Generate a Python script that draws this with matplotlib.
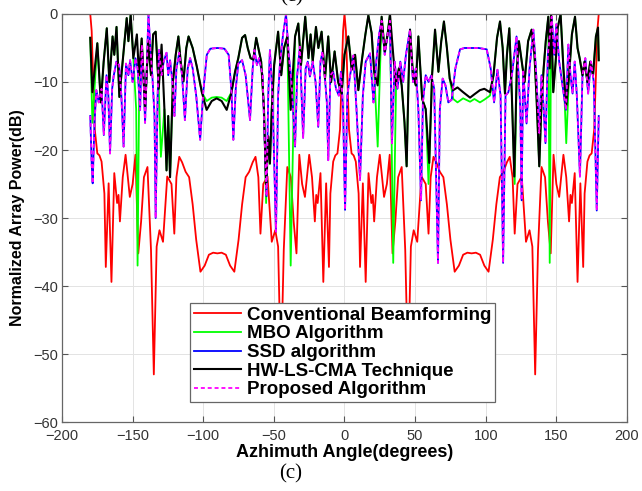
import matplotlib
matplotlib.use("Agg")
import matplotlib.pyplot as plt

# azimuth (deg) and normalized power (dB)

# Conventional beamforming
red_ang = [-180, -179, -178, -176.8, -175, -173.5, -172, -170, -169, -167, -165, -163, -161, -160, -159,
           -157, -155, -152, -150, -148, -146, -144, -142, -139.5, -137, -135, -133, -131, -128.5,
           -125.5, -122.5, -120.5, -119, -117, -115, -112.5, -110, -107.5, -105, -102, -99, -96, -93, -90,
           -87, -84, -81, -78, -75, -72.5, -70, -67.5, -65, -63, -61, -59.5, -57.5, -54.5, -51.5, -49,
           -47, -45, -43, -40.5, -38, -36, -34, -32, -30, -28, -25, -23, -21, -20, -19, -17, -15, -13,
           -11, -10, -8, -6.5, -5, -3.2, -2, -1, 0,
           1, 2, 3.2, 5, 6.5, 8, 10, 11, 13, 15, 17, 19, 20, 21, 23, 25, 28, 30, 32, 34, 36, 38, 40.5,
           43, 45, 47, 49, 51.5, 54.5, 57.5, 59.5, 61, 63, 65, 67.5, 70, 72.5, 75, 78, 81, 84, 87, 90,
           93, 96, 99, 102, 105, 107.5, 110, 112.5, 115, 117, 119, 120.5, 122.5, 125.5, 128.5, 131, 133,
           135, 137, 139.5, 142, 144, 146, 148, 150, 152, 155, 157, 159, 160, 161, 163, 165, 167, 169,
           170, 172, 173.5, 175, 176.8, 178, 179, 180]
red_db = [0, -2.5, -9, -17, -20.5, -20.8, -21.7, -26.4, -37.2, -24.9, -39.4, -23.4, -27.8, -26.6, -30.5,
          -24, -20.7, -26.9, -25, -20.7, -35.2, -30.5, -24, -22.5, -34.7, -53, -34.2, -31.8, -33.5,
          -23.9, -25, -32.3, -24, -21, -21.8, -23.2, -24, -28, -33.2, -37.9, -37, -35.4, -35.1, -35.2,
          -35.1, -35.4, -37, -37.9, -33.2, -28, -24, -23.2, -21.8, -21, -24, -32.3, -25, -23.9, -33.5,
          -31.8, -34.2, -53, -34.7, -22.5, -24, -30.5, -35.2, -20.7, -25, -26.9, -20.7, -24, -30.5,
          -26.6, -27.8, -23.4, -39.4, -24.9, -37.2, -26.4, -21.7, -20.8, -20.5, -17, -9, -2.5, 0,
          -2.5, -9, -17, -20.5, -20.8, -21.7, -26.4, -37.2, -24.9, -39.4, -23.4, -27.8, -26.6, -30.5,
          -24, -20.7, -26.9, -25, -20.7, -35.2, -30.5, -24, -22.5, -34.7, -53, -34.2, -31.8, -33.5,
          -23.9, -25, -32.3, -24, -21, -21.8, -23.2, -24, -28, -33.2, -37.9, -37, -35.4, -35.1, -35.2,
          -35.1, -35.4, -37, -37.9, -33.2, -28, -24, -23.2, -21.8, -21, -24, -32.3, -25, -23.9, -33.5,
          -31.8, -34.2, -53, -34.7, -22.5, -24, -30.5, -35.2, -20.7, -25, -26.9, -20.7, -24, -30.5,
          -26.6, -27.8, -23.4, -39.4, -24.9, -37.2, -26.4, -21.7, -20.8, -20.5, -17, -9, -2.5, 0]

# HW-LS-CMA technique
hw_ang = [-180, -178.5, -175, -172.5, -170.5, -168.3, -166.5, -164.2, -163, -161.4, -159.4, -157.5,
          -154.2, -153, -151.4, -149.5, -147, -145.5, -143.6, -141.2, -139, -137, -135.5, -133.7,
          -131.5, -129.5, -127.5, -126, -124.8, -123.5, -121.5, -119.5, -117.6, -116, -114, -112,
          -110.4, -107.5, -104.6, -101, -97.6, -94, -90.5, -87, -83.4, -80, -77.5, -75.2, -72.5,
          -70.4, -68.5, -66.5, -64.6, -62.5, -60.5, -59, -57, -55.5, -54, -52.8, -51.5, -49.8, -47,
          -44.8, -42.8, -40.5, -38.1, -35, -32.7, -30.8, -27.8, -25.5, -24, -22.5, -20.2, -18.5,
          -16.2, -13.8, -11.5, -9.5, -7, -4.5, -2, 0, 2.7, 5.1, 7.5, 9.8, 12.5, 14.8, 16.9, 19.2, 21,
          23.5, 26.3, 28.5, 30.5, 32.2, 34.5, 36.5, 38.5, 40.5, 42.5, 44, 45.3, 46.4, 48.5, 50.5, 52.3,
          55, 57.5, 60, 62, 64.1, 66.5, 68.5, 70.4, 72.5, 74.5, 77, 80, 84, 88.9, 92, 95.9, 99, 103,
          105.5, 108, 110.1, 112, 113.6, 115, 116.7, 118.5, 120.2, 122, 123.5, 125.5, 127.5, 130,
          132.5, 134.5, 136, 137.9, 139.5, 141, 142.5, 144.3, 145.3, 146.3, 147.8, 149.5, 151, 153,
          155, 157, 159, 161, 163.2, 165, 166.5, 168.5, 170, 172, 174, 176, 178, 179.5, 180]
hw_db = [-3.5, -11.5, -4.3, -13, -7, -2.1, -10, -3.3, -6, -1.9, -12.2, -8,
         -0.6, -4, -0.1, -6.5, -3, -9, -3.6, -14.1, -4, -9, -3, -2.6,
         -11, -4.5, -14, -23, -15, -24, -10, -6, -3.3, -7, -9.9, -5,
         -3.3, -5, -7.7, -11.5, -14.1, -12.8, -12.4, -12.8, -14.1, -11.5, -8.5, -6.5, -3.5,
         -3.1, -5, -6.5, -6.7, -3.5, -5.5, -7, -14, -25.3, -18, -22, -14, -7.5, -2.6,
         -9, -5, -3.3, -14.1, -3.3, -1.4, -7.5, -0.4, -6.5, -3, -7, -1.9, -5,
         -2.6, -9.5, -3.3, -10, -5.5, -10, -11.7, -6, -3.3, -8.2, -6, -11.2, -6.5, -3, -0.2, -2.8, -8.5,
         -10.5, -0.4, -5.5, -3, 0, -6, -10.5, -8, -10.5, -16, -22.4, -10, -2.3, -9, -10.5, -3.3,
         -12.5, -14, -21.9, -9, -2.3, -8.5, -4, -1.1, -5, -9.5, -11.2, -10.8, -11.5, -12.3, -11.8, -11.2, -11, -11.5,
         -9, -3.5, -1.1, -5, -11.7, -6, -2.1, -12, -23.9, -8, -4, -7, -10, -4,
         -2.3, -6, -12.5, -22.4, -13, -8, -4, -0.4, -8, 0, -11.5, -7, -2, 0,
         -8, -13.5, -9, -3, -0.4, -5, -6.5, -9, -7, -10, -7, -9, -3.3, -2, -6.8]

# MBO algorithm
mbo_ang = [-180, -178.5, -175, -172.5, -170.5, -168.3, -166.5, -164.2, -163, -161.4, -159.4, -157.5,
           -154.2, -153, -151.4, -149.5, -147.5, -146.5, -145.5, -143.6, -141.2, -139, -137, -135.5,
           -133.7, -131.5, -130, -127.5, -126, -124.8, -123.5, -121.5, -119.5, -117.6, -116, -114, -112,
           -110.4, -107.5, -104.6, -101, -97.6, -94, -90.5, -87, -83.4, -80, -77.5, -75.2, -72.5,
           -70.4, -68.5, -66.5, -64.6, -62.5, -60.5, -59, -57, -55.5, -54, -52.8, -51.5, -49.8, -47,
           -44.8, -42.8, -40.5, -38.1, -35, -32.7, -30.8, -27.8, -25.5, -24, -22.5, -20.2, -18.5,
           -16.2, -13.8, -11.5, -9.5, -7, -4.5, -2, 0, 2.7, 5.1, 7.5, 9.8, 12.5, 14.8, 16.9, 19.2, 21,
           23.5, 26.3, 28.5, 30.5, 32.2, 34.5, 36.5, 38.5, 40.5, 42.5, 44, 45.3, 46.4, 48.5, 50.5, 52.3,
           55, 57.5, 59.5, 62, 64.1, 66.5, 68.5, 70.4, 72.5, 74.5, 77, 80, 84, 88.9, 92, 95.9, 99, 103,
           105.5, 108, 110.1, 112, 113.6, 115, 116.7, 118.5, 120.5, 122, 123.5, 125.5, 127.5, 130,
           132.5, 134.5, 136, 137.9, 139.5, 141, 142.5, 144.3, 145.3, 146.3, 147.8, 149.5, 151, 153,
           155, 157, 159, 161, 163.2, 165, 166.5, 168.5, 170, 172, 174, 176, 178, 179.5, 180]
mbo_db = [-3.5, -16, -4.3, -13, -7, -2.1, -10, -3.3, -6, -1.9, -12.2, -8,
          -0.6, -4, -0.1, -6.5, -14, -37, -14, -3.6, -14.1, -4, -9, -3,
          -2.6, -11, -21, -14, -23, -15, -24, -10, -6, -3.3, -7, -9.9, -5,
          -3.3, -5, -7.7, -11.5, -12.8, -12.3, -12.2, -12.3, -12.8, -11.5, -8.5, -6.5, -3.5,
          -3.1, -5, -6.5, -6.7, -3.5, -5.5, -7, -14, -27.8, -18, -22, -14, -7.5, -2.6,
          -9, -5, -3.3, -37, -3.3, -1.4, -7.5, -0.4, -6.5, -3, -7, -1.9, -5,
          -2.6, -9.5, -3.3, -10, -5.5, -10, -11.7, -6, -3.3, -8.2, -6, -11.2, -6.5, -3, -0.2, -2.8, -8.5,
          -19.5, -0.4, -5.5, -3, 0, -36.6, -10.5, -8, -10.5, -16, -22.4, -10, -2.3, -9, -10.5, -3.3,
          -12.5, -14, -25, -9, -2.3, -8.5, -4, -1.1, -5, -9.5, -12.5, -13, -12.4, -12.9, -12.5, -13, -12.6, -12,
          -9, -3.5, -1.1, -5, -11.7, -6, -2.1, -12, -25, -8, -4, -7, -10, -4,
          -2.3, -6, -12.5, -22.4, -13, -8, -4, -0.4, -36.6, 0, -11.5, -7, -2, 0,
          -8, -19, -9, -3, -0.4, -5, -6.5, -9, -7, -10, -7, -9, -3.3, -2, -6.8]

# SSD algorithm
ssd_ang = [-180, -179, -178.3, -177, -175.7, -174, -172, -170.4, -168.5, -167.2, -166, -164.5, -163.5,
           -161.5, -159.6, -158, -156.4, -154.7, -153, -151.8, -150, -148, -146.5, -144.7, -143.5,
           -142.3, -141.2, -140, -138.8, -137.5, -136, -134.5, -133.7, -132.3, -131.3, -129.5, -128,
           -126, -124.8, -123.5, -121.8, -120.4, -119, -117, -115, -113, -111, -109.3, -107.5, -105,
           -102.2, -100, -97.5, -95, -90, -85, -82, -80, -78.7, -77, -75.2, -72.5, -70, -66.9, -65,
           -63.8, -62, -60.5, -58, -55.2, -54, -52.8, -51, -49.2, -48.5, -47, -45.7, -43.5, -41.4,
           -39.5, -37.5, -35, -33.5, -31.6, -29.3, -27.5, -26, -24.5, -22.5, -20.5, -18.6, -17, -15.5,
           -14, -12.5, -11.5, -10, -8, -6, -4, -2.5, -1, 0.4, 2, 4, 6.3, 8.5, 11, 13, 15, 18.1, 20.5,
           22.5, 24.5, 26.3, 28.5, 30.5, 32.2, 33.6, 35.5, 37.5, 39.5, 41.5, 43.5, 46.4, 48.5, 50.5,
           52.3, 54.2, 55.5, 57.5, 59.5, 61.5, 63.5, 66.2, 67.5, 69.5, 71.5, 73.5, 75.9, 78.5, 81.8,
           85, 90, 95, 100.7, 103.5, 105.9, 108.3, 110.5, 112.3, 114, 116, 118.5, 121.8, 123.5, 124.5,
           125.4, 126.5, 128.9, 131, 133.7, 135.5, 137.9, 139.5, 140.5, 142.3, 144, 146.7, 148.5, 150,
           152, 154, 156.8, 158.5, 160, 161.5, 163, 164.5, 166.7, 168.5, 170.5, 172.5, 174.5, 176.5,
           178.6, 180]
ssd_db = [-15, -22, -24.9, -16, -11.2, -13, -11, -17.8, -9, -12, -20.5, -11, -9.2,
          -7, -7.5, -12, -19.5, -7.3, -9, -6.8, -10, -6.5, -8, -14.1, -4.5,
          -9, -16, -8, 0, -5, -9.2, -15, -30, -12, -5.3, -9, -7,
          -5.7, -9, -6.8, -10, -15, -8, -5.7, -9, -15.6, -8, -6.5, -8, -12,
          -18.5, -11.5, -6, -5.1, -5, -5.1, -6, -11.5, -18.5, -11, -7.3, -6.8, -9, -15.6, -8,
          -5.3, -7.5, -6.5, -9, -26.8, -12, -5.3, -12, -26.8, -32, -12, -7.3, -3, 0,
          -6, -10, -19.5, -9, -4.8, -18.2, -8, -7, -9.2, -7, -10, -16.6, -7, -5.5,
          -9, -13, -21.5, -9, -8.5, -11, -12, -8.5, -14, -28.8, -12, -9, -6.1, -14, -24.4, -12, -7, -5.8, -13,
          -7, -3, -1, -6, -3, -1, -19, -7, -11, -7, -10, -6, -2.3, -10, -8,
          -14.1, -27.4, -13, -9, -10, -9, -11, -36.6, -14, -9.5, -10.5, -13, -12.6, -8, -5.2,
          -5, -5, -5, -5.2, -8, -13, -8.2, -12, -36.6, -12, -11.5, -9, -3.3, -10, -14,
          -27.4, -8.2, -16.1, -8, -2.3, -8, -17.5, -9, -12, -19, -6, -0.4, -6, -1.5,
          -7, -10, -14.1, -4.5, -9, -11.7, -7, -12, -23.9, -9, -6.5, -11.7, -7, -10,
          -28.9, -15]

# proposed algorithm follows the SSD pattern
prop_ang = ssd_ang
prop_db = ssd_db

labels = ["Conventional Beamforming", "MBO Algorithm", "SSD algorithm",
          "HW-LS-CMA Technique", "Proposed Algorithm"]

plt.rcParams['font.family'] = ['Liberation Sans', 'DejaVu Sans']

fig = plt.figure(figsize=(6.42, 4.91), dpi=100)
ax = fig.add_axes([0.0966, 0.1405, 0.88, 0.831])

l1, = ax.plot(red_ang, red_db, color='#ff0000', lw=1.3)
l2, = ax.plot(mbo_ang, mbo_db, color='#00ff00', lw=1.3)
l3, = ax.plot(ssd_ang, ssd_db, color='#0000ff', lw=1.3)
l4, = ax.plot(hw_ang, hw_db, color='black', lw=1.5)
l5, = ax.plot(prop_ang, prop_db, color='#ff00ff', lw=1.3, linestyle=(0, (2.2, 1.6)))

ax.set_xlim(-200, 200)
ax.set_ylim(-60, 0)
ax.set_xticks(range(-200, 201, 50))
ax.set_yticks(range(-60, 1, 10))
ax.grid(True, color='#e3e3e3', lw=0.7)
ax.set_axisbelow(True)
ax.tick_params(direction='in', length=4, top=True, right=True, width=0.8,
               colors='#555555', labelcolor='#333333', labelsize=10.5)
ax.tick_params(axis='y', pad=3)
ax.tick_params(axis='x', pad=5)
for s in ax.spines.values():
    s.set_color('#666666')
    s.set_linewidth(0.9)

ax.set_xlabel("Azhimuth Angle(degrees)", fontsize=13, fontweight='bold', labelpad=1)
ax.set_ylabel("Normalized Array Power(dB)", fontsize=11.5, fontweight='bold', labelpad=6)

leg = ax.legend([l1, l2, l3, l4, l5], labels, loc='upper left',
                bbox_to_anchor=(0.2265, 0.2917), borderaxespad=0,
                prop={'weight': 'bold', 'size': 13.5}, handlelength=2.5,
                handletextpad=0.35, labelspacing=0.08, borderpad=0.2,
                fancybox=False, framealpha=1, edgecolor='#666666')
leg.get_frame().set_linewidth(0.9)

# panel tag above (cut by the top edge) and below
fig.text(292 / 642, 1 - 1 / 491, "(c)", family='Liberation Serif', fontsize=15,
         ha='center', va='baseline')
fig.text(291 / 642, 1 - 474 / 491, "(c)", family='Liberation Serif', fontsize=15,
         ha='center', va='center')

fig.savefig("out.png", dpi=100)
